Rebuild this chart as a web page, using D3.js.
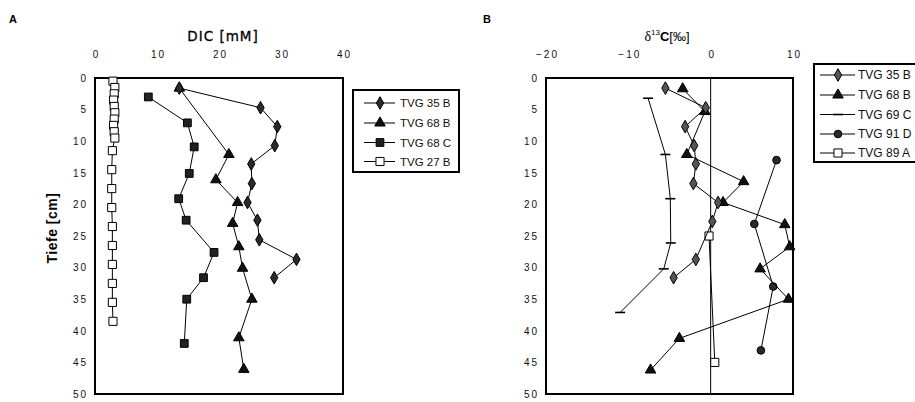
<!DOCTYPE html>
<html>
<head>
<meta charset="utf-8">
<script src="https://cdn.jsdelivr.net/npm/d3@7"></script>
<style>
  html, body { margin: 0; padding: 0; background: #fff; }
  svg { display: block; }
  .tick text { font-family: "Liberation Sans", Arial, sans-serif; font-size: 10px; letter-spacing: 2px; fill: #111; }
</style>
</head>
<body>
<svg id="chart" width="915" height="402"></svg>
<script>
// ---- Panel A: DIC [mM] versus depth ----
const depth35B_A = [1.6, 4.7, 7.7, 10.7, 13.6, 16.7, 19.7, 22.5, 25.6, 28.7, 31.6];
const dic35B     = [13.6, 26.7, 29.4, 29.0, 25.2, 25.3, 24.6, 26.2, 26.5, 32.5, 28.9];

const depth68B_A = [1.6, 12.1, 16.1, 19.7, 23.0, 26.7, 30.1, 35.0, 41.1, 46.1];
const dic68B     = [13.6, 21.6, 19.5, 23.0, 22.2, 23.2, 23.8, 25.3, 23.2, 24.0];

const depth68C_A = [3.0, 7.1, 10.9, 15.1, 19.1, 22.5, 27.6, 31.6, 35.0, 42.0];
const dic68C     = [8.6, 14.9, 16.0, 15.2, 13.5, 14.7, 19.2, 17.5, 14.8, 14.4];

const depth27B_A = [0.5, 1.5, 2.5, 3.5, 4.5, 5.5, 6.5, 7.5, 8.5, 9.5, 11.5, 14.5, 17.5, 20.5, 23.5, 26.5, 29.5, 32.5, 35.5, 38.5];
const dic27B     = [2.9, 3.2, 3.1, 3.0, 3.1, 3.2, 3.1, 3.0, 3.1, 3.2, 2.8, 2.7, 2.7, 2.7, 2.8, 2.8, 2.8, 2.8, 2.8, 2.9];

// ---- Panel B: delta 13C [permil] versus depth ----
const depth35B_B = [1.6, 4.7, 7.7, 10.7, 13.6, 16.7, 19.7, 22.7, 28.7, 31.6];
const d13C35B    = [-5.5, -0.6, -3.1, -2.0, -1.8, -2.1, 0.9, 0.2, -1.8, -4.5];

const depth68B_B = [1.7, 5.3, 12.1, 16.4, 19.7, 23.2, 26.7, 30.2, 35.0, 41.2, 46.2];
const d13C68B    = [-3.4, -0.7, -2.9, 4.0, 1.5, 9.0, 9.6, 6.0, 9.45, -3.8, -7.3];

const depth69C_B = [3.2, 12.1, 19.1, 26.1, 30.2, 37.1];
const d13C69C    = [-7.6, -5.5, -4.9, -4.85, -5.7, -11.0];

const depth91D_B = [13.0, 23.1, 33.0, 43.1];
const d13C91D    = [8.0, 5.3, 7.6, 6.1];

const depth89A_B = [25.0, 45.0];
const d13C89A    = [-0.2, 0.5];

// Axis ticks
const depthTicks = [0, 5, 10, 15, 20, 25, 30, 35, 40, 45, 50];
const dicTicks   = [0, 10, 20, 30, 40];
const d13CTicks  = [-20, -10, 0, 10];

// Legend labels
const legendA = ["TVG 35 B", "TVG 68 B", "TVG 68 C", "TVG 27 B"];
const legendB = ["TVG 35 B", "TVG 68 B", "TVG 69 C", "TVG 91 D", "TVG 89 A"];

const svg = d3.select("#chart");
const FONT = '"Liberation Sans", Arial, sans-serif';

const y = d3.scaleLinear().domain([0, 50]).range([78, 394]);
const xA = d3.scaleLinear().domain([0, 40]).range([95, 343]);
const xB = d3.scaleLinear().domain([-20, 10]).range([546, 793]);

// marker styles per series
const markers = {
  diamond:  { type: d3.symbolDiamond,  size: 46, fill: "#2a2a2a", stroke: "#000" },
  diamondB: { type: d3.symbolDiamond,  size: 46, fill: "#555",    stroke: "#000" },
  triangle: { type: d3.symbolTriangle, size: 48, fill: "#111",    stroke: "#000" },
  fsquare:  { type: d3.symbolSquare,   size: 60, fill: "#222",    stroke: "#000" },
  osquare:  { type: d3.symbolSquare,   size: 66, fill: "#fff",    stroke: "#000" },
  circle:   { type: d3.symbolCircle,   size: 46, fill: "#2a2a2a", stroke: "#000" },
  bar:      { type: null }
};

function drawMarker(g, cx, cy, m) {
  if (m.type === null) {
    g.append("line").attr("x1", cx - 5).attr("x2", cx + 5).attr("y1", cy).attr("y2", cy)
      .attr("stroke", "#000").attr("stroke-width", 1.6);
  } else {
    g.append("path").attr("d", d3.symbol().type(m.type).size(m.size)())
      .attr("transform", `translate(${cx},${cy})`)
      .attr("fill", m.fill).attr("stroke", m.stroke).attr("stroke-width", 1);
  }
}

function drawSeries(x, xs, ys, m) {
  const g = svg.append("g");
  const pts = xs.map((v, i) => [x(v), y(ys[i])]);
  g.append("path").attr("d", d3.line()(pts))
    .attr("fill", "none").attr("stroke", "#000").attr("stroke-width", 1);
  pts.forEach(p => drawMarker(g, p[0], p[1], m));
}

function drawFrame(x) {
  const [x0, x1] = x.range();
  svg.append("rect").attr("x", x0).attr("y", y(0)).attr("width", x1 - x0).attr("height", y(50) - y(0))
    .attr("fill", "none").attr("stroke", "#000").attr("stroke-width", 2);
}

function drawAxes(x, xTicks, yLabelX) {
  const gx = svg.append("g").attr("transform", "translate(0,58)")
    .call(d3.axisTop(x).tickValues(xTicks).tickSize(0).tickPadding(0).tickFormat(d3.format("d")));
  gx.select(".domain").remove();
  gx.selectAll("text").attr("dx", "1px");
  const gy = svg.append("g").attr("transform", `translate(${yLabelX},0)`)
    .call(d3.axisLeft(y).tickValues(depthTicks).tickSize(0).tickPadding(0));
  gy.select(".domain").remove();
  gy.selectAll("text").attr("dx", "2px");
}

// Panel A
drawAxes(xA, dicTicks, 86);
drawFrame(xA);
drawSeries(xA, dic27B, depth27B_A, markers.osquare);
drawSeries(xA, dic68C, depth68C_A, markers.fsquare);
drawSeries(xA, dic68B, depth68B_A, markers.triangle);
drawSeries(xA, dic35B, depth35B_A, markers.diamond);

// Panel B
drawAxes(xB, d13CTicks, 537);
drawFrame(xB);
svg.append("line").attr("x1", xB(0)).attr("x2", xB(0)).attr("y1", y(0)).attr("y2", y(50))
  .attr("stroke", "#000").attr("stroke-width", 1);
drawSeries(xB, d13C89A, depth89A_B, markers.osquare);
drawSeries(xB, d13C69C, depth69C_B, markers.bar);
drawSeries(xB, d13C91D, depth91D_B, markers.circle);
drawSeries(xB, d13C68B, depth68B_B, markers.triangle);
drawSeries(xB, d13C35B, depth35B_B, markers.diamondB);

// Titles
svg.append("text").attr("x", 9).attr("y", 23).text("A")
  .attr("font-family", FONT).attr("font-weight", "bold").attr("font-size", 11);
svg.append("text").attr("x", 483).attr("y", 23).text("B")
  .attr("font-family", FONT).attr("font-weight", "bold").attr("font-size", 11);

svg.append("text").attr("x", 223).attr("y", 41).attr("text-anchor", "middle").text("DIC [mM]")
  .attr("font-family", '"DejaVu Sans", sans-serif').attr("font-size", 13.5).attr("letter-spacing", "1px")
  .attr("stroke", "#000").attr("stroke-width", 0.3);

const tB = svg.append("text").attr("x", 667).attr("y", 41).attr("text-anchor", "middle")
  .attr("font-family", FONT).attr("font-size", 13);
tB.append("tspan").text("δ").attr("font-family", '"Liberation Serif", serif').attr("font-size", 14);
tB.append("tspan").text("13").attr("font-size", 8).attr("dy", -6);
tB.append("tspan").text("C").attr("font-weight", "bold").attr("dy", 6);
tB.append("tspan").text("[‰]");

svg.append("text").attr("transform", "translate(57,228) rotate(-90)").attr("text-anchor", "middle")
  .text("Tiefe [cm]").attr("font-family", FONT).attr("font-weight", "bold").attr("font-size", 14)
  .attr("letter-spacing", "0.5px");

// Legends
function drawLegend(box, rows, labels, marks, lx0, lx1, mx, tx, fs) {
  svg.append("rect").attr("x", box[0]).attr("y", box[1]).attr("width", box[2]).attr("height", box[3])
    .attr("fill", "#fff").attr("stroke", "#000").attr("stroke-width", 2);
  labels.forEach((lab, i) => {
    const g = svg.append("g");
    g.append("line").attr("x1", lx0).attr("x2", lx1).attr("y1", rows[i]).attr("y2", rows[i])
      .attr("stroke", "#000").attr("stroke-width", 1);
    drawMarker(g, mx, rows[i], marks[i]);
    g.append("text").attr("x", tx).attr("y", rows[i]).attr("dy", "0.36em").text(lab)
      .attr("font-family", FONT).attr("font-size", fs).attr("fill", "#111");
  });
}

drawLegend([353, 90, 106, 82], [103, 123, 142.5, 161.5], legendA,
  [markers.diamond, markers.triangle, markers.fsquare, markers.osquare], 364, 395, 380, 400, 11.5);

drawLegend([814, 64, 110, 98], [75, 95, 114.5, 134, 153], legendB,
  [markers.diamondB, markers.triangle, markers.bar, markers.circle, markers.osquare], 820, 855, 838, 858, 12);
</script>
</body>
</html>
